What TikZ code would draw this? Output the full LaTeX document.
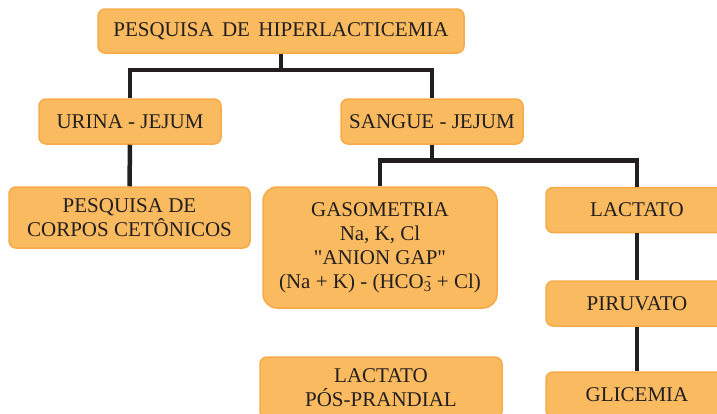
\documentclass[tikz,border=0pt]{standalone}
\usepackage{fontspec}
\setmainfont{Liberation Serif}[Ligatures=TeXOff]
\usetikzlibrary{positioning,calc}
\definecolor{boxfill}{RGB}{250,186,96}
\definecolor{boxedge}{RGB}{247,170,72}
\definecolor{ink}{RGB}{35,31,32}

\begin{document}
\begin{tikzpicture}[
  x=1pt,y=-1pt,
  font=\fontsize{21}{24}\selectfont,
  box/.style={draw=boxedge,line width=1.5pt,fill=boxfill,rounded corners=7pt,
              align=center,inner sep=0pt,text=ink,
              minimum width=182pt,minimum height=45pt},
  link/.style={draw=ink,line width=4.5pt},
]
\useasboundingbox (0,0) rectangle (717,413);
\clip (0,0) rectangle (717,413);

%% ============================================================
%% Rows:  y=31 (root), y=121 (jejum), y=187.. (exams)
%% ============================================================

% --- Root ---
\node[box,minimum width=366pt,minimum height=44pt] (pesquisa) at (281,31)
      {PESQUISA\hspace{0.4em}DE\hspace{0.4em}HIPERLACTICEMIA};

% --- Jejum branches ---
\node[box] (urina)  at (130,121.5) {URINA - JEJUM};
\node[box] (sangue) at (432,121.5) {SANGUE - JEJUM};

\draw[link] (pesquisa.south) -- ++(0,16) coordinate (rootjoin);
\draw[link] (urina.north) |- (rootjoin) -| (sangue.north);

% --- Urina ---
\node[box,minimum width=241pt,minimum height=61pt] (corpos) at (129.5,217.5)
      {PESQUISA DE\\CORPOS CETÔNICOS};
\draw[link] (urina.south) -- (corpos.north);

% --- Sangue ---
\node[box,minimum width=234pt,minimum height=121pt,rounded corners=14pt] (gaso)
      at (380,247.5)
      {GASOMETRIA\\Na, K, Cl\\"ANION GAP"\\
       (Na + K) - (HCO\textsubscript{3}\llap{\textsuperscript{-}} + Cl)};
\node[box] (lactato)  at (637,210)   {LACTATO};
\node[box] (piruvato) at (637,303.5) {PIRUVATO};
\node[box] (glicemia) at (637,394.5) {GLICEMIA};

\draw[link] (sangue.south) -- ++(0,15.5) coordinate (sanguejoin);
\draw[link] (gaso.north) |- (sanguejoin) -| (lactato.north);
\draw[link] (lactato.south) -- (piruvato.north);
\draw[link] (piruvato.south) -- (glicemia.north);

% --- Pos-prandial ---
\node[box,minimum width=242pt,minimum height=61pt] (posprandial) at (381,387.5)
      {LACTATO\\PÓS-PRANDIAL};

\end{tikzpicture}
\end{document}
